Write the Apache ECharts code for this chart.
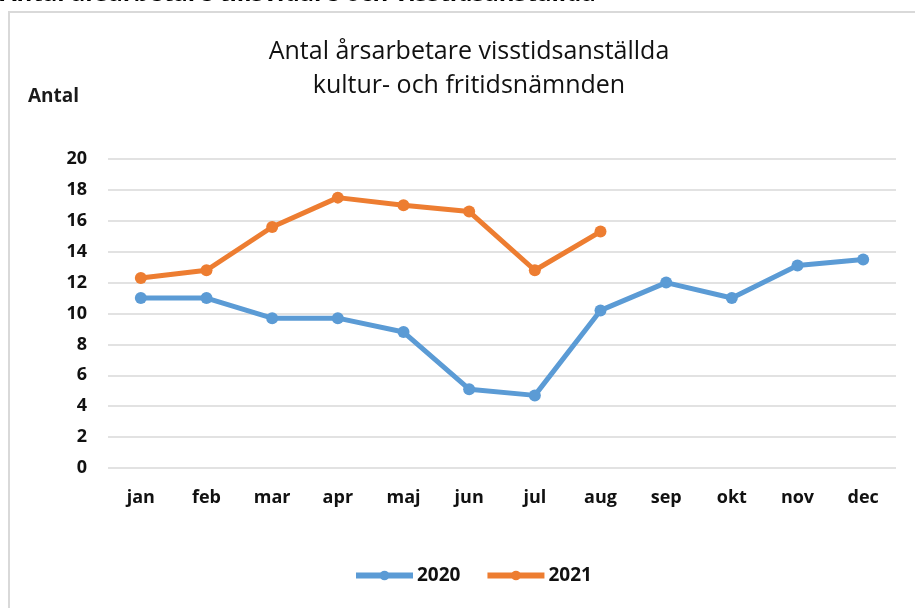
<!DOCTYPE html>
<html>
<head>
<meta charset="utf-8">
<script src="https://cdn.jsdelivr.net/npm/echarts@6/dist/echarts.min.js"></script>
<style>
html,body{margin:0;padding:0;background:#fff;}
#c{width:915px;height:608px;}
</style>
</head>
<body>
<div id="c"></div>
<script>
const months = ['jan','feb','mar','apr','maj','jun','jul','aug','sep','okt','nov','dec'];
const values2020 = [11.0, 11.0, 9.7, 9.7, 8.8, 5.1, 4.7, 10.2, 12.0, 11.0, 13.1, 13.5];
const values2021 = [12.3, 12.8, 15.6, 17.5, 17.0, 16.6, 12.8, 15.3, null, null, null, null];
const seriesNames = ['2020', '2021'];
const titleLines = ['Antal årsarbetare visstidsanställda', 'kultur- och fritidsnämnden'];
const pageHeading = 'Antal årsarbetare tillsvidare och visstidsanställda';
const yAxisName = 'Antal';

const FONT = 'Open Sans';
const chart = echarts.init(document.getElementById('c'), null, {renderer: 'canvas'});
chart.setOption({
  backgroundColor: '#ffffff',
  animation: false,
  graphic: [
    {type: 'rect', left: 8, top: 11, shape: {width: 920, height: 610},
     style: {fill: '#fff', stroke: '#d9d9d9', lineWidth: 2}, z: -10},
    {type: 'text', left: 0, top: -18,
     style: {text: pageHeading, font: 'bold 24px ' + FONT, fill: '#000'}},
    {type: 'text', left: 28, top: 87,
     style: {text: yAxisName, font: 'bold 19px ' + FONT, fill: '#1a1a1a'}}
  ],
  title: {
    text: titleLines.join('\n'),
    left: 464, textAlign: 'center', top: 30,
    textStyle: {fontFamily: FONT, fontSize: 25, fontWeight: 'normal', color: '#111', lineHeight: 34}
  },
  legend: {
    data: seriesNames,
    top: 566, left: 353, padding: 0,
    itemWidth: 57, itemHeight: 12, itemGap: 24,
    lineStyle: {width: 6},
    textStyle: {fontFamily: FONT, fontSize: 19, fontWeight: 'bold', color: '#111', padding: [0,0,0,-1]}
  },
  grid: {left: 108, right: 19, top: 159, bottom: 140, containLabel: false},
  xAxis: {
    type: 'category', data: months, boundaryGap: true,
    axisLine: {show: false}, axisTick: {show: false},
    axisLabel: {fontFamily: FONT, fontSize: 18, fontWeight: 'bold', color: '#111', margin: 21}
  },
  yAxis: {
    type: 'value', min: 0, max: 20, interval: 2,
    axisLine: {show: false}, axisTick: {show: false},
    axisLabel: {fontFamily: FONT, fontSize: 18, fontWeight: 'bold', color: '#111', margin: 21},
    splitLine: {lineStyle: {color: '#d9d9d9', width: 1.5}}
  },
  series: [
    {name: seriesNames[0], type: 'line', data: values2020, symbol: 'circle', symbolSize: 12,
     color: '#5b9bd5', lineStyle: {width: 5, color: '#5b9bd5'}, itemStyle: {color: '#5b9bd5'}},
    {name: seriesNames[1], type: 'line', data: values2021, symbol: 'circle', symbolSize: 12,
     color: '#ed7d31', lineStyle: {width: 5, color: '#ed7d31'}, itemStyle: {color: '#ed7d31'}}
  ]
});
</script>
</body>
</html>
